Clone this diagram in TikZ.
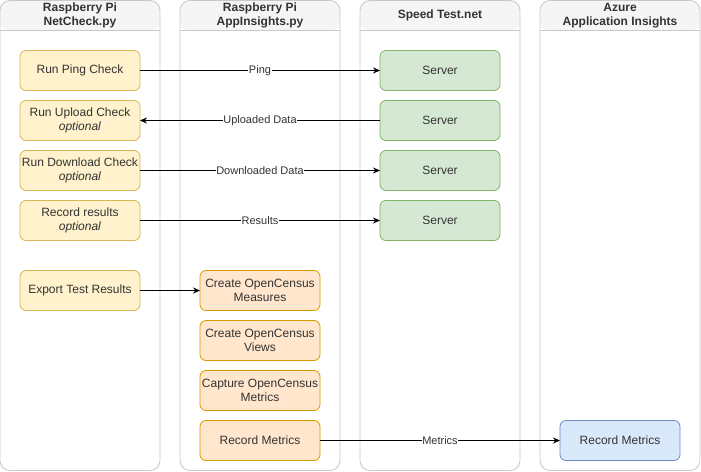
\documentclass[tikz,border=0pt]{standalone}
\usepackage{fontspec}
\setmainfont{Liberation Sans}
\usetikzlibrary{arrows.meta}
\definecolor{lanedraw}{HTML}{C8C8C8}
\definecolor{headfill}{HTML}{F5F5F5}
\definecolor{txt}{HTML}{333333}
\definecolor{yfill}{HTML}{FFF2CC}
\definecolor{ydraw}{HTML}{D6B656}
\definecolor{ofill}{HTML}{FFE6CC}
\definecolor{odraw}{HTML}{D79B00}
\definecolor{gfill}{HTML}{D5E8D4}
\definecolor{gdraw}{HTML}{82B366}
\definecolor{bfill}{HTML}{DAE8FC}
\definecolor{bdraw}{HTML}{6C8EBF}
\tikzset{
  lane/.style={draw=lanedraw, line width=0.8pt, fill=white, rounded corners=10pt,
    minimum width=160pt, minimum height=470pt, inner sep=0pt, outer sep=0pt,
    path picture={
      \fill[headfill] (path picture bounding box.north west) rectangle ([yshift=-30pt]path picture bounding box.north east);
      \draw[lanedraw, line width=0.8pt] ([yshift=-30pt]path picture bounding box.north west) -- ([yshift=-30pt]path picture bounding box.north east);
    }},
  lanetitle/.style={font=\fontsize{12}{14}\selectfont\bfseries, text=txt, align=center, inner sep=0pt},
  box/.style={rounded corners=6pt, line width=0.8pt, minimum width=120pt, minimum height=40pt,
    inner sep=0pt, outer sep=0pt, align=center, font=\fontsize{12}{14}\selectfont, text=txt},
  ybox/.style={box, draw=ydraw, fill=yfill},
  obox/.style={box, draw=odraw, fill=ofill},
  gbox/.style={box, draw=gdraw, fill=gfill},
  bbox/.style={box, draw=bdraw, fill=bfill},
  conn/.style={line width=0.8pt, -{Stealth[length=7pt,width=6pt]}},
  lbl/.style={fill=white, inner sep=0.5pt, font=\fontsize{11}{13}\selectfont, text=txt}
}
\begin{document}
\begin{tikzpicture}[x=1pt,y=-1pt]
\useasboundingbox (0,0) rectangle (701,471);
% lanes
\node[lane] (L1) at (80,235.5) {};
\node[lane] (L2) at (260,235.5) {};
\node[lane] (L3) at (440,235.5) {};
\node[lane] (L4) at (620,235.5) {};
\node[lanetitle] (T1) at (80,15.5) {Raspberry Pi\\NetCheck.py};
\node[lanetitle] (T2) at (260,15.5) {Raspberry Pi\\AppInsights.py};
\node[lanetitle] (T3) at (440,15.5) {Speed Test.net};
\node[lanetitle] (T4) at (620,15.5) {Azure\\Application Insights};
% lane 1
\node[ybox] (ping) at (80,70.5) {Run Ping Check};
\node[ybox] (upload) at (80,120.5) {Run Upload Check\\\textit{optional}};
\node[ybox] (download) at (80,170.5) {Run Download Check\\\textit{optional}};
\node[ybox] (record) at (80,220.5) {Record results\\\textit{optional}};
\node[ybox] (export) at (80,290.5) {Export Test Results};
% lane 2
\node[obox] (measures) at (260,290.5) {Create OpenCensus\\Measures};
\node[obox] (views) at (260,340.5) {Create OpenCensus\\Views};
\node[obox] (capture) at (260,390.5) {Capture OpenCensus\\Metrics};
\node[obox] (recmet) at (260,440.5) {Record Metrics};
% lane 3
\node[gbox] (s1) at (440,70.5) {Server};
\node[gbox] (s2) at (440,120.5) {Server};
\node[gbox] (s3) at (440,170.5) {Server};
\node[gbox] (s4) at (440,220.5) {Server};
% lane 4
\node[bbox] (azrec) at (620,440.5) {Record Metrics};
% connectors
\draw[conn] (ping) -- node[lbl] {Ping} (s1);
\draw[conn] (s2) -- node[lbl] {Uploaded Data} (upload);
\draw[conn] (download) -- node[lbl] {Downloaded Data} (s3);
\draw[conn] (record) -- node[lbl] {Results} (s4);
\draw[conn] (export) -- (measures);
\draw[conn] (recmet) -- node[lbl] {Metrics} (azrec);
\end{tikzpicture}
\end{document}
